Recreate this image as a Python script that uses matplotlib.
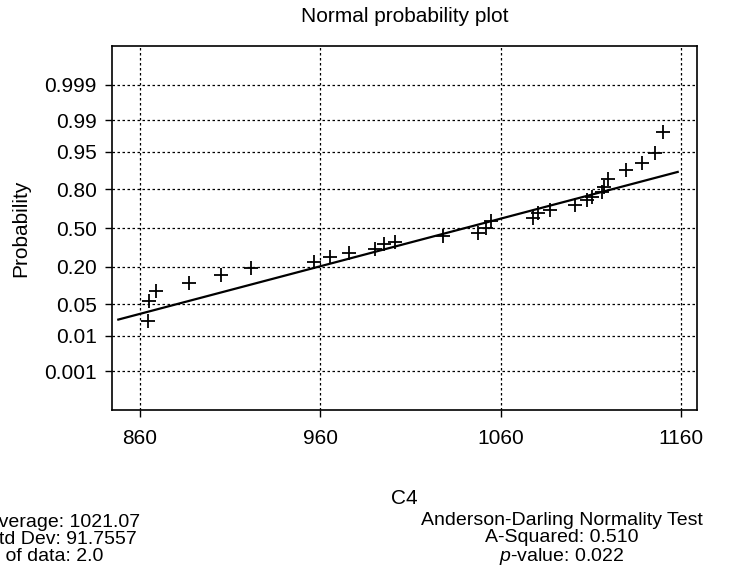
import matplotlib
matplotlib.use("Agg")
import matplotlib.pyplot as plt
from statistics import NormalDist

plt.rcParams["font.family"] = ["Liberation Sans", "DejaVu Sans"]
plt.rcParams["mathtext.fontset"] = "custom"
plt.rcParams["mathtext.rm"] = "Liberation Sans"
plt.rcParams["mathtext.it"] = "Liberation Sans:italic"

# C4 values and their plotted probabilities
c4 = [864.6, 865.0, 868.7, 887.3, 904.9, 921.6, 956.5, 965.4, 976.1, 990.3,
      995.5, 1001.4, 1027.9, 1047.6, 1051.7, 1054.5, 1078.2, 1081.0, 1087.4,
      1101.3, 1107.8, 1110.5, 1116.0, 1117.3, 1119.8, 1129.6, 1138.3, 1145.6,
      1149.9]
prob = [0.022, 0.057, 0.087, 0.119, 0.155, 0.192, 0.230, 0.263, 0.292, 0.323,
        0.365, 0.378, 0.434, 0.460, 0.503, 0.560, 0.587, 0.624, 0.655, 0.690,
        0.726, 0.745, 0.779, 0.811, 0.855, 0.893, 0.919, 0.948, 0.981]

# fitted line end points
fit_x = [848.0, 1158.2]
fit_p = [0.024, 0.887]

prob_ticks = [0.001, 0.01, 0.05, 0.20, 0.50, 0.80, 0.95, 0.99, 0.999]
prob_labels = ["0.001", "0.01", "0.05", "0.20", "0.50", "0.80", "0.95", "0.99", "0.999"]
x_ticks = [860, 960, 1060, 1160]

stats_left = "Average: 1021.07\nStd Dev: 91.7557\nN of data: 2.0"
stats_right = "Anderson-Darling Normality Test\nA-Squared: 0.510\n$\\mathit{p}$-value: 0.022"

nd = NormalDist()
z = lambda ps: [nd.inv_cdf(p) for p in ps]

fig = plt.figure(figsize=(7.3, 5.66), dpi=100)
ax = fig.add_axes([112 / 730, 1 - 410 / 566, 585 / 730, 364 / 566])

ax.plot(c4, z(prob), linestyle="none", marker="+", color="black",
        markersize=9.5, markeredgewidth=1.3)
ax.plot(fit_x, z(fit_p), color="black", linewidth=1.6)

ax.set_xlim(844.5, 1168.9)
ax.set_ylim(-3.93, 3.93)
ax.set_xticks(x_ticks)
ax.set_yticks(z(prob_ticks))
ax.set_yticklabels(prob_labels)
ax.tick_params(labelsize=15, length=5, width=1, direction="out", colors="black")
ax.tick_params(axis="x", pad=9)
ax.tick_params(axis="y", pad=6)
ax.grid(True, color="black", linestyle=(0, (2, 2)), linewidth=0.9)
for s in ax.spines.values():
    s.set_linewidth(1.2)

ax.set_title("Normal probability plot", fontsize=15, pad=17)
ax.set_xlabel("C4", fontsize=15, labelpad=29)
ax.set_ylabel("Probability", fontsize=15, labelpad=10)

fig.text(-14 / 730, 1 - 561 / 566, stats_left, ha="left", va="baseline",
         fontsize=14, linespacing=1.0)
fig.text(562 / 730, 1 - 561 / 566, stats_right, ha="center", va="baseline",
         fontsize=14, linespacing=1.0, multialignment="center")

fig.savefig("out.png", dpi=100)
